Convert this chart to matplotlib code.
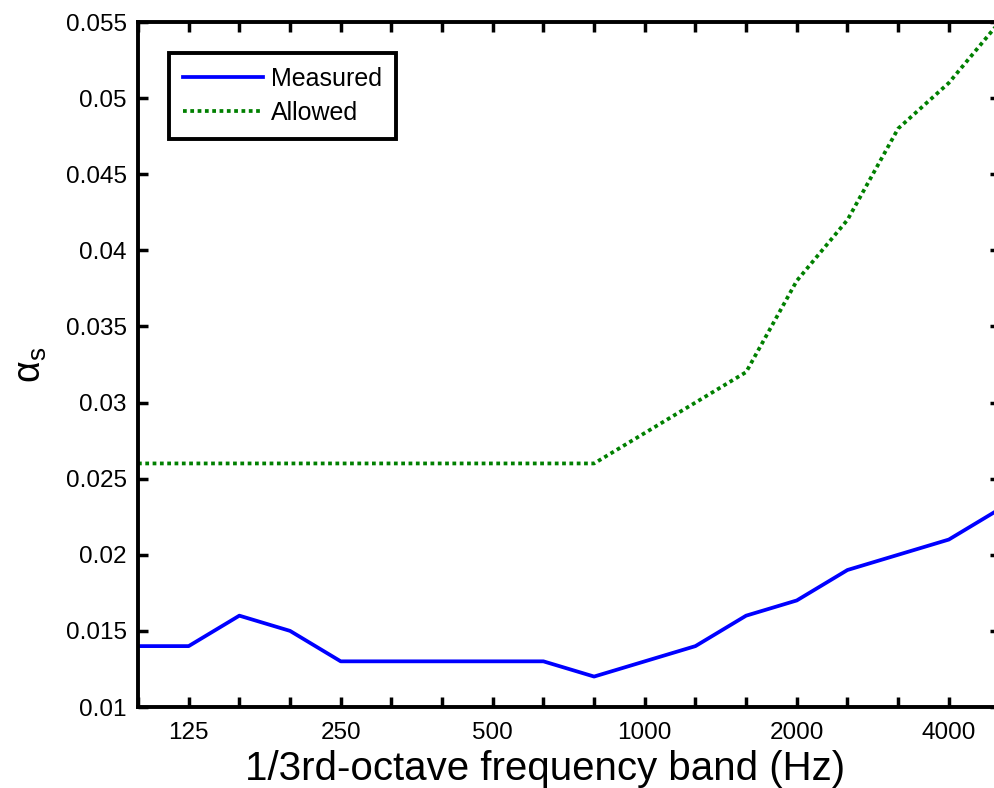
import matplotlib
matplotlib.use("Agg")
import matplotlib.pyplot as plt
import numpy as np

plt.rcParams['font.family'] = ['Liberation Sans', 'DejaVu Sans']
plt.rcParams['mathtext.fontset'] = 'custom'
plt.rcParams['mathtext.rm'] = 'Liberation Sans'
plt.rcParams['mathtext.it'] = 'Liberation Sans'

bands = [100, 125, 160, 200, 250, 315, 400, 500, 630, 800, 1000, 1250, 1600, 2000, 2500, 3150, 4000, 5000]
measured = [0.014, 0.014, 0.016, 0.015, 0.013, 0.013, 0.013, 0.013, 0.013, 0.012, 0.013, 0.014, 0.016, 0.017, 0.019, 0.020, 0.021, 0.023]
allowed = [0.026, 0.026, 0.026, 0.026, 0.026, 0.026, 0.026, 0.026, 0.026, 0.026, 0.028, 0.030, 0.032, 0.038, 0.042, 0.048, 0.051, 0.055]
tick_labels = ['125', '250', '500', '1000', '2000', '4000']

x = np.arange(len(bands))

fig = plt.figure(figsize=(9.94, 7.88), dpi=100)
ax = fig.add_axes([138/994, 81/788, 861.5/994, 685/788])

ax.plot(x, measured, color='#0000ff', lw=2.7, label='Measured')
ax.plot(x, allowed, color='#008000', lw=2.7, ls=(0, (1, 0.95)), label='Allowed')

ax.set_xlim(0, len(bands) - 1)
ax.set_ylim(0.01, 0.055)
ax.set_yticks(np.arange(0.01, 0.0551, 0.005))
ax.set_yticklabels(['0.01', '0.015', '0.02', '0.025', '0.03', '0.035', '0.04', '0.045', '0.05', '0.055'])

major = [bands.index(int(t)) for t in tick_labels]
ax.set_xticks(x, minor=True)
ax.set_xticks(major)
ax.set_xticklabels(tick_labels)

ax.tick_params(axis='both', which='both', direction='in', top=True, right=True,
               width=2.5, length=7, labelsize=17.5, pad=8)
ax.tick_params(axis='x', which='major', pad=11)
for s in ax.spines.values():
    s.set_linewidth(2.8)

ax.set_xlabel('1/3rd-octave frequency band (Hz)', fontsize=29)
ax.xaxis.label.set_verticalalignment('baseline')
ax.xaxis.set_label_coords((545 - 138) / 861.5, -(780 - 707) / 685)
ax.set_ylabel(r'$\mathrm{\alpha}_\mathrm{s}$', fontsize=27, labelpad=12)

leg = ax.legend(loc='upper left', bbox_to_anchor=(0.0357, 0.955), fontsize=18,
                frameon=True, fancybox=False, edgecolor='black', handlelength=3.2,
                borderpad=0.55, labelspacing=0.42, handletextpad=0.35, borderaxespad=0)
leg.get_frame().set_linewidth(2.8)
leg.get_frame().set_alpha(1)

fig.savefig('out.png', dpi=100)
